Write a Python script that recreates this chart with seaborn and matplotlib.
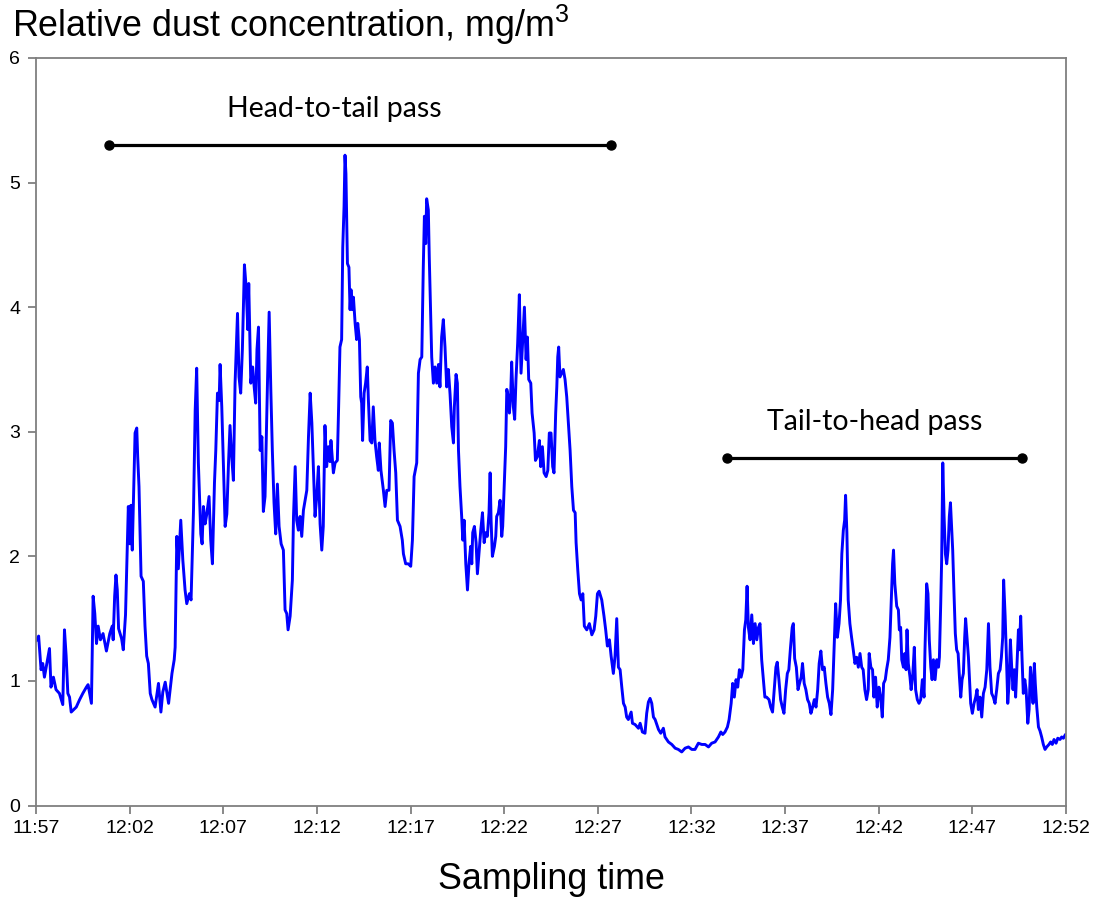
import matplotlib
matplotlib.use("Agg")
import matplotlib.pyplot as plt
import pandas as pd
import seaborn as sns

# ---- data: (minutes after 11:57, relative dust concentration mg/m3) ----
start_baseline = [
    (0.00, 1.32), (0.14, 1.36), (0.27, 1.09), (0.36, 1.14), (0.45, 1.03),
    (0.58, 1.14), (0.72, 1.26), (0.80, 0.95), (0.93, 1.03), (1.07, 0.93),
    (1.25, 0.90), (1.43, 0.81), (1.52, 1.41), (1.61, 1.20), (1.70, 0.90),
    (1.79, 0.87), (1.88, 0.75), (2.15, 0.79), (2.33, 0.85), (2.50, 0.90),
    (2.69, 0.95), (2.78, 0.97), (2.96, 0.82), (3.05, 1.68), (3.14, 1.54),
    (3.23, 1.30), (3.32, 1.44), (3.44, 1.33), (3.58, 1.38), (3.76, 1.24),
    (3.94, 1.38), (4.07, 1.44), (4.12, 1.33), (4.20, 1.68), (4.27, 1.85),
    (4.34, 1.73), (4.41, 1.42), (4.57, 1.34), (4.66, 1.25), (4.78, 1.53),
    (4.87, 2.04), (4.93, 2.40), (5.02, 2.10), (5.07, 2.41), (5.14, 2.05),
    (5.29, 2.99), (5.38, 3.03), (5.43, 2.80), (5.50, 2.56), (5.61, 1.84),
    (5.73, 1.80), (5.82, 1.44), (5.91, 1.20), (6.00, 1.14), (6.10, 0.90),
    (6.19, 0.85), (6.36, 0.79), (6.54, 0.98), (6.67, 0.75), (6.77, 0.91),
    (6.90, 0.99), (7.08, 0.82), (7.26, 1.06), (7.38, 1.17),
]

head_pass_early = [
    (7.43, 1.27), (7.52, 2.16), (7.60, 1.90), (7.73, 2.29), (7.84, 1.97),
    (7.96, 1.73), (8.05, 1.62), (8.19, 1.70), (8.28, 1.65), (8.41, 2.37),
    (8.50, 3.17), (8.58, 3.51), (8.67, 2.75), (8.80, 2.18), (8.87, 2.10),
    (8.94, 2.40), (9.03, 2.26), (9.12, 2.34), (9.24, 2.48), (9.33, 2.13),
    (9.42, 1.94), (9.53, 2.59), (9.60, 2.85), (9.69, 3.31), (9.78, 3.25),
    (9.83, 3.54), (9.92, 3.20), (10.01, 2.72), (10.10, 2.24), (10.19, 2.34),
    (10.28, 2.75), (10.36, 3.05), (10.45, 2.80), (10.54, 2.61), (10.63, 3.39),
    (10.76, 3.95), (10.84, 3.44), (10.93, 3.31), (11.02, 3.66), (11.13, 4.34),
    (11.22, 4.16), (11.31, 3.82), (11.36, 4.19), (11.47, 3.39), (11.57, 3.52),
    (11.65, 3.36), (11.73, 3.23), (11.80, 3.66), (11.88, 3.84), (11.97, 2.85),
    (12.06, 2.96), (12.14, 2.36), (12.23, 2.48), (12.36, 3.39), (12.45, 3.96),
    (12.54, 3.33), (12.62, 2.85), (12.71, 2.43), (12.80, 2.18), (12.89, 2.58),
    (12.98, 2.24), (13.09, 2.10), (13.21, 2.05), (13.30, 1.57), (13.39, 1.54),
    (13.46, 1.41), (13.57, 1.52), (13.69, 1.81), (13.75, 2.32), (13.84, 2.72),
    (13.92, 2.29), (14.01, 2.21), (14.10, 2.32), (14.19, 2.16), (14.28, 2.37),
    (14.37, 2.45), (14.46, 2.53), (14.55, 2.96), (14.64, 3.31), (14.73, 3.07),
    (14.81, 2.72), (14.90, 2.32), (14.99, 2.48), (15.08, 2.72), (15.17, 2.26),
]

head_pass_peaks = [
    (15.26, 2.05), (15.34, 2.24), (15.43, 3.05), (15.52, 2.72), (15.61, 2.88),
    (15.70, 2.76), (15.75, 2.93), (15.88, 2.67), (15.97, 2.75), (16.09, 2.77),
    (16.16, 3.20), (16.23, 3.68), (16.32, 3.74), (16.38, 4.48), (16.45, 4.81),
    (16.50, 5.22), (16.55, 5.07), (16.63, 4.35), (16.71, 4.32), (16.77, 3.98),
    (16.82, 4.14), (16.89, 3.98), (16.95, 4.08), (17.04, 3.87), (17.12, 3.74),
    (17.18, 3.87), (17.27, 3.74), (17.34, 3.28), (17.39, 3.23), (17.44, 2.93),
    (17.52, 3.31), (17.60, 3.39), (17.69, 3.52), (17.75, 3.25), (17.84, 2.93),
    (17.93, 2.91), (18.01, 3.20), (18.10, 2.93), (18.19, 2.80), (18.28, 2.69),
    (18.33, 2.91), (18.42, 2.69), (18.55, 2.53), (18.64, 2.40), (18.73, 2.53),
    (18.85, 2.53), (18.94, 3.09), (19.03, 3.07), (19.12, 2.85), (19.21, 2.67),
    (19.30, 2.29), (19.44, 2.24), (19.56, 2.13), (19.62, 2.02), (19.74, 1.94),
    (19.88, 1.94), (20.01, 1.92), (20.10, 2.13), (20.19, 2.64), (20.33, 2.75),
    (20.42, 3.47), (20.51, 3.58), (20.60, 3.60), (20.68, 4.32), (20.74, 4.73),
    (20.81, 4.51), (20.86, 4.87), (20.95, 4.78), (21.00, 4.40), (21.13, 3.60),
    (21.22, 3.39), (21.31, 3.52), (21.40, 3.39), (21.49, 3.54), (21.57, 3.36),
    (21.66, 3.76), (21.75, 3.90), (21.84, 3.68), (21.93, 3.36), (22.02, 3.50),
]

head_pass_late = [
    (22.11, 3.30), (22.20, 3.04), (22.29, 2.91), (22.34, 3.20), (22.43, 3.46),
    (22.50, 3.39), (22.56, 2.85), (22.64, 2.56), (22.73, 2.32), (22.79, 2.13),
    (22.86, 2.29), (22.95, 1.94), (23.04, 1.73), (23.12, 1.94), (23.21, 2.08),
    (23.27, 1.94), (23.32, 2.19), (23.41, 2.24), (23.50, 2.11), (23.57, 1.86),
    (23.68, 2.08), (23.75, 2.21), (23.84, 2.35), (23.93, 2.11), (24.01, 2.19),
    (24.10, 2.16), (24.19, 2.35), (24.25, 2.67), (24.30, 2.29), (24.37, 2.00),
    (24.48, 2.08), (24.55, 2.16), (24.60, 2.32), (24.69, 2.35), (24.78, 2.45),
    (24.87, 2.16), (24.92, 2.24), (25.01, 2.61), (25.08, 2.88), (25.14, 3.34),
    (25.22, 3.28), (25.28, 3.15), (25.35, 3.31), (25.40, 3.56), (25.49, 3.20),
    (25.56, 3.10), (25.63, 3.42), (25.72, 3.71), (25.81, 4.10), (25.90, 3.47),
    (25.99, 3.74), (26.08, 4.00), (26.17, 3.58), (26.24, 3.76), (26.31, 3.42),
    (26.42, 3.39), (26.49, 3.15), (26.60, 2.99), (26.67, 2.77), (26.77, 2.80),
    (26.88, 2.93), (26.95, 2.72), (27.04, 2.88), (27.13, 2.67), (27.24, 2.64),
    (27.33, 2.69), (27.41, 2.99), (27.50, 2.99), (27.59, 2.72), (27.66, 2.67),
    (27.75, 3.15), (27.81, 3.36), (27.86, 3.60), (27.91, 3.68), (27.98, 3.44),
    (28.07, 3.47), (28.16, 3.50), (28.25, 3.42), (28.34, 3.28), (28.43, 3.07),
    (28.52, 2.85), (28.61, 2.56), (28.70, 2.37), (28.79, 2.35), (28.84, 2.11),
    (28.93, 1.89), (29.02, 1.70), (29.11, 1.65), (29.20, 1.70), (29.28, 1.44),
    (29.41, 1.41), (29.55, 1.46), (29.68, 1.37), (29.80, 1.41), (29.89, 1.52),
    (29.98, 1.70), (30.07, 1.72), (30.21, 1.65), (30.33, 1.52), (30.42, 1.41),
    (30.51, 1.28), (30.62, 1.33), (30.71, 1.20), (30.83, 1.06), (30.92, 1.20),
    (31.01, 1.50),
]

turnaround_low = [
    (31.10, 1.11), (31.19, 1.09), (31.28, 0.95), (31.37, 0.82), (31.46, 0.79),
    (31.54, 0.71), (31.63, 0.69), (31.78, 0.75), (31.85, 0.66), (31.99, 0.65),
    (32.17, 0.62), (32.26, 0.66), (32.38, 0.59), (32.52, 0.58), (32.61, 0.74),
    (32.70, 0.83), (32.79, 0.86), (32.88, 0.82), (32.97, 0.71), (33.06, 0.69),
    (33.24, 0.61), (33.36, 0.58), (33.50, 0.62), (33.59, 0.55), (33.77, 0.51),
    (33.95, 0.49), (34.13, 0.46), (34.30, 0.45), (34.48, 0.43), (34.66, 0.46),
    (34.84, 0.47), (35.02, 0.45), (35.19, 0.45), (35.37, 0.50), (35.55, 0.49),
    (35.73, 0.49), (35.91, 0.47), (36.08, 0.50), (36.26, 0.51), (36.44, 0.55),
    (36.57, 0.59), (36.67, 0.57), (36.79, 0.59), (36.92, 0.63), (37.01, 0.69),
    (37.12, 0.82), (37.20, 0.98), (37.29, 0.87), (37.38, 1.01), (37.47, 0.95),
    (37.56, 1.09), (37.65, 1.03), (37.74, 1.09), (37.83, 1.41), (37.90, 1.49),
    (37.97, 1.76), (38.04, 1.43), (38.13, 1.33), (38.22, 1.53), (38.31, 1.30),
    (38.40, 1.46), (38.49, 1.33), (38.58, 1.43), (38.66, 1.46),
]

tail_pass_early = [
    (38.75, 1.17), (38.83, 1.03), (38.92, 0.87), (39.01, 0.87), (39.14, 0.85),
    (39.23, 0.79), (39.33, 0.75), (39.42, 0.93), (39.51, 1.11), (39.58, 1.15),
    (39.67, 1.01), (39.76, 0.85), (39.85, 0.79), (39.94, 0.74), (40.03, 0.93),
    (40.12, 1.06), (40.20, 1.09), (40.29, 1.27), (40.38, 1.43), (40.44, 1.46),
    (40.51, 1.18), (40.60, 1.11), (40.69, 0.93), (40.77, 0.98), (40.86, 1.03),
    (40.93, 1.14), (41.02, 0.98), (41.11, 0.93), (41.20, 0.85), (41.29, 0.82),
    (41.38, 0.74), (41.47, 0.79), (41.56, 0.85), (41.65, 0.79), (41.74, 0.93),
    (41.82, 1.14), (41.91, 1.24), (42.00, 1.09), (42.09, 1.11), (42.18, 0.98),
    (42.27, 0.87), (42.36, 0.82), (42.45, 0.73), (42.54, 0.93), (42.63, 1.33),
    (42.70, 1.62), (42.79, 1.35), (42.88, 1.46), (42.96, 1.65), (43.03, 2.02),
    (43.11, 2.21), (43.18, 2.29), (43.23, 2.49), (43.30, 2.19), (43.37, 1.65),
    (43.46, 1.46), (43.55, 1.35), (43.64, 1.25), (43.73, 1.14), (43.82, 1.19),
    (43.91, 1.11), (44.00, 1.22), (44.09, 1.11), (44.17, 1.09), (44.26, 0.93),
    (44.35, 0.85), (44.44, 0.93), (44.49, 1.22), (44.58, 1.11), (44.67, 1.09),
    (44.74, 0.87), (44.83, 1.03), (44.92, 0.79), (45.01, 0.95), (45.10, 0.87),
    (45.19, 0.71), (45.26, 0.98), (45.35, 1.01), (45.42, 1.09), (45.51, 1.17),
    (45.60, 1.35), (45.67, 1.65), (45.74, 1.94), (45.79, 2.05), (45.86, 1.78),
]

tail_pass_late = [
    (45.96, 1.60), (46.05, 1.57), (46.10, 1.41), (46.17, 1.43), (46.23, 1.17),
    (46.32, 1.11), (46.39, 1.22), (46.46, 1.09), (46.51, 1.41), (46.58, 1.14),
    (46.67, 1.03), (46.73, 0.93), (46.81, 1.03), (46.90, 1.27), (46.97, 0.93),
    (47.06, 0.85), (47.15, 0.82), (47.24, 0.85), (47.33, 1.01), (47.42, 0.87),
    (47.47, 1.25), (47.56, 1.78), (47.63, 1.70), (47.70, 1.33), (47.78, 1.11),
    (47.85, 1.01), (47.92, 1.17), (48.01, 1.01), (48.10, 1.17), (48.19, 1.11),
    (48.24, 1.19), (48.31, 1.62), (48.36, 1.97), (48.42, 2.75), (48.49, 2.32),
    (48.56, 2.02), (48.63, 1.94), (48.70, 2.05), (48.77, 2.32), (48.83, 2.43),
    (48.90, 2.21), (48.95, 2.05), (49.02, 1.70), (49.09, 1.38), (49.16, 1.25),
    (49.24, 1.22), (49.31, 1.03), (49.38, 0.87), (49.45, 1.01), (49.52, 1.06),
    (49.59, 1.35), (49.64, 1.50), (49.72, 1.33), (49.79, 1.19), (49.84, 1.03),
    (49.91, 0.82), (50.00, 0.74), (50.09, 0.82), (50.18, 0.87), (50.25, 0.93),
    (50.32, 0.77), (50.41, 0.87), (50.50, 0.71), (50.59, 0.90), (50.68, 0.95),
    (50.77, 1.09), (50.86, 1.46), (50.94, 1.11), (51.03, 0.90), (51.12, 0.87),
    (51.21, 0.82), (51.30, 0.93), (51.39, 1.06), (51.48, 1.09), (51.55, 1.19),
    (51.62, 1.35), (51.67, 1.81), (51.75, 1.52), (51.82, 1.19), (51.89, 0.82),
    (51.96, 0.98), (52.03, 1.33), (52.10, 1.11), (52.17, 0.93), (52.24, 1.09),
    (52.31, 0.87), (52.40, 1.19), (52.46, 1.41), (52.51, 1.25), (52.58, 1.52),
    (52.65, 1.19), (52.72, 0.90), (52.80, 1.01), (52.87, 0.93), (52.96, 0.66),
    (53.03, 0.77), (53.10, 1.11), (53.17, 0.98), (53.24, 0.82), (53.31, 1.14),
    (53.36, 0.98), (53.44, 0.79), (53.53, 0.63), (53.61, 0.60), (53.70, 0.55),
    (53.79, 0.49), (53.88, 0.45), (53.97, 0.47), (54.09, 0.49), (54.18, 0.51),
    (54.27, 0.49), (54.36, 0.53), (54.47, 0.50), (54.56, 0.54), (54.68, 0.53),
    (54.77, 0.55), (54.86, 0.54), (54.97, 0.57),
]

tick_minutes = [0, 5, 10, 15, 20, 25, 30, 35, 40, 45, 50, 55]
tick_labels = ["11:57", "12:02", "12:07", "12:12", "12:17", "12:22",
               "12:27", "12:32", "12:37", "12:42", "12:47", "12:52"]

pass_names = ["Head-to-tail pass", "Tail-to-head pass"]
pass_start = [3.9, 36.9]
pass_end = [30.7, 52.65]
pass_level = [5.30, 2.79]
pass_label_minute = [15.92, 44.8]

# ---- build table ----
rows = (start_baseline + head_pass_early + head_pass_peaks + head_pass_late
        + turnaround_low + tail_pass_early + tail_pass_late)
df = pd.DataFrame(rows, columns=["minute", "conc"])

# ---- plotting ----
sns.set_theme(style="white")
plt.rcParams["font.family"] = ["Liberation Sans", "DejaVu Sans"]
plt.rcParams["mathtext.fontset"] = "custom"
plt.rcParams["mathtext.rm"] = "Liberation Sans"
plt.rcParams["text.color"] = "black"

W, H = 1099, 899
fig = plt.figure(figsize=(W / 100, H / 100), dpi=100)
fig.patch.set_facecolor("white")
left, right, top, bottom = 36, 1066, 58, 805.5
ax = fig.add_axes([left / W, 1 - bottom / H, (right - left) / W, (bottom - top) / H])

sns.lineplot(data=df, x="minute", y="conc", ax=ax, color="#0000FF",
             linewidth=2.1, estimator=None, sort=False)

ax.set_xlim(0, 55)
ax.set_ylim(0, 6)
ax.set_xticks(tick_minutes)
ax.set_xticklabels(tick_labels)
ax.set_yticks(range(0, 7))
ax.set_xlabel("")
ax.set_ylabel("")
for s in ax.spines.values():
    s.set_color("#7f7f7f")
    s.set_linewidth(1.3)
ax.tick_params(axis="both", which="major", direction="out", length=5.5, width=1.3,
               color="#7f7f7f", labelsize=14, labelcolor="black",
               bottom=True, left=True, top=False, right=False)
ax.tick_params(axis="x", pad=5)
ax.tick_params(axis="y", pad=6)

for name, a, b, lvl, lx in zip(pass_names, pass_start, pass_end, pass_level,
                               pass_label_minute):
    ax.plot([a, b], [lvl, lvl], color="black", linewidth=2.3,
            marker="o", markersize=6.5, solid_capstyle="butt")
    ax.text(lx, lvl + 0.225, name, ha="center", va="baseline",
            fontsize=20.5, family=["Lato", "DejaVu Sans"], color="black")

fig.text(12 / W, 1 - 37 / H, r"Relative dust concentration, mg/m$^\mathregular{3}$",
         fontsize=25.8, ha="left", va="baseline", color="black")
fig.text(551 / W, 1 - 889 / H, "Sampling time", fontsize=25.8,
         ha="center", va="baseline", color="black")

fig.savefig("out.png", dpi=100, facecolor="white")
